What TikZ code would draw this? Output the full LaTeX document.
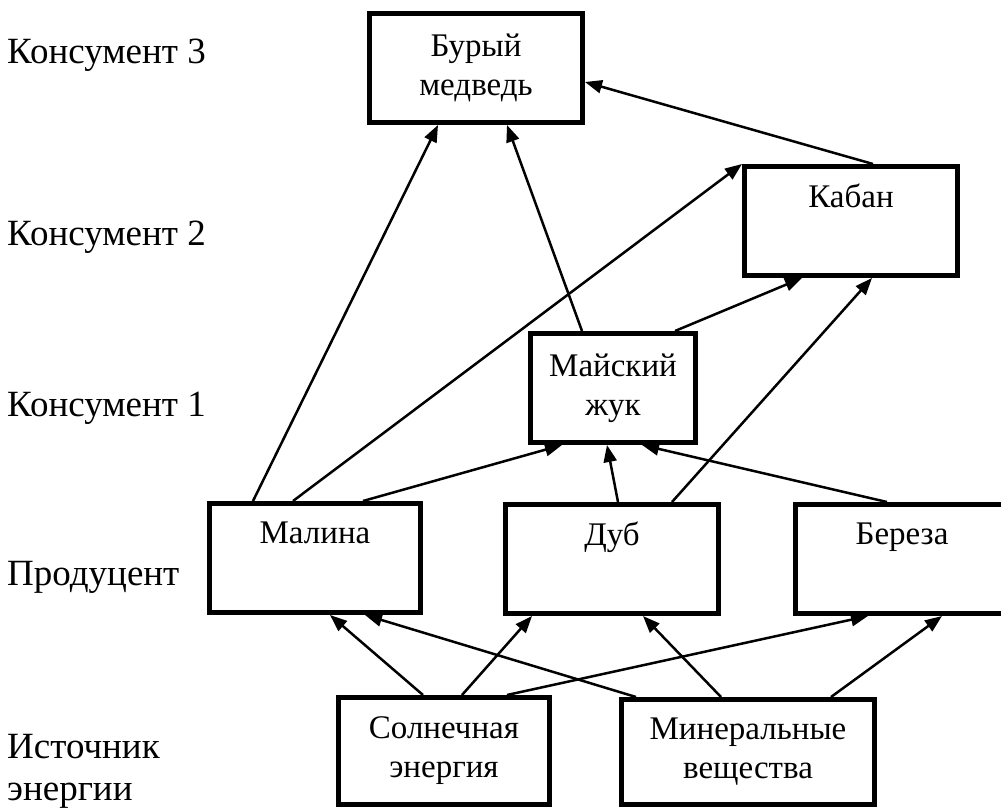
\documentclass[tikz,border=0pt]{standalone}
\usepackage{fontspec}
\setmainfont{Liberation Serif}
\usetikzlibrary{arrows.meta}
\usetikzlibrary{positioning}
\tikzset{>={Triangle[length=17pt,width=13pt]}}
\tikzset{box/.style={draw, line width=5pt, minimum height=109pt, align=center, inner sep=0pt, font=\fontsize{33}{39}\selectfont}}
\tikzset{lev/.style={anchor=west, align=left, inner sep=0pt, font=\fontsize{37}{42}\selectfont}}
\tikzset{arr/.style={->, line width=2.5pt}}

\begin{document}
\begin{tikzpicture}[x=1pt,y=-1pt]
	\useasboundingbox (0,0) rectangle (1001,810);
	\clip (0,0) rectangle (1001,810);
	% levels
	\node[lev] (lvlc) at (7,55) {Консумент 3};
	\node[lev] (lvlb) at (7,237) {Консумент 2};
	\node[lev] (lvla) at (7,408) {Консумент 1};
	\node[lev] (lvlp) at (7,577) {Продуцент};
	\node[lev] (lvls) at (7,771) {Источник\\энергии};
	% boxes
	\node[box, minimum width=213pt] (bear) at (476,68) {Бурый\\медведь};
	\node[box, minimum width=213pt] (boar) at (851,221) {Кабан\\\strut};
	\node[box, minimum width=165pt] (beetle) at (613,388) {Майский\\жук};
	\node[box, minimum width=211pt] (rasp) at (315,558) {Малина\\\strut};
	\node[box, minimum width=213pt] (oak) at (612,559) {Дуб\\\strut};
	\node[box, minimum width=213pt] (birch) at (902,559) {Береза\\\strut};
	\node[box, minimum width=211pt, minimum height=107pt] (sun) at (444,751) {Солнечная\\энергия};
	\node[box, minimum width=253pt, minimum height=105pt] (mineral) at (748,752) {Минеральные\\вещества};
	% arrows
	\draw[arr] ([xshift=-62pt]rasp.north) -- ([xshift=-38pt]bear.south);
	\draw[arr] ([xshift=-22pt]rasp.north) -- (boar.north west);
	\draw[arr] ([xshift=48pt]rasp.north) -- ([xshift=-51pt]beetle.south);
	\draw[arr] ([xshift=-31pt]beetle.north) -- ([xshift=31pt]bear.south);
	\draw[arr] ([xshift=62pt]beetle.north) -- ([xshift=-49pt]boar.south);
	\draw[arr] ([xshift=22pt]boar.north) -- ([yshift=-14pt]bear.east);
	\draw[arr] ([xshift=6pt]oak.north) -- ([xshift=-6pt]beetle.south);
	\draw[arr] ([xshift=60pt]oak.north) -- ([xshift=21pt]boar.south);
	\draw[arr] ([xshift=-15pt]birch.north) -- ([xshift=29pt]beetle.south);
	\draw[arr] ([xshift=-21pt]sun.north) -- ([xshift=15pt]rasp.south);
	\draw[arr] ([xshift=18pt]sun.north) -- ([xshift=-80pt]oak.south);
	\draw[arr] ([xshift=63pt]sun.north) -- ([xshift=-34pt]birch.south);
	\draw[arr] ([xshift=-112pt]mineral.north) -- ([xshift=50pt]rasp.south);
	\draw[arr] ([xshift=-27pt]mineral.north) -- ([xshift=31pt]oak.south);
	\draw[arr] ([xshift=83pt]mineral.north) -- ([xshift=40pt]birch.south);
\end{tikzpicture}
\end{document}
